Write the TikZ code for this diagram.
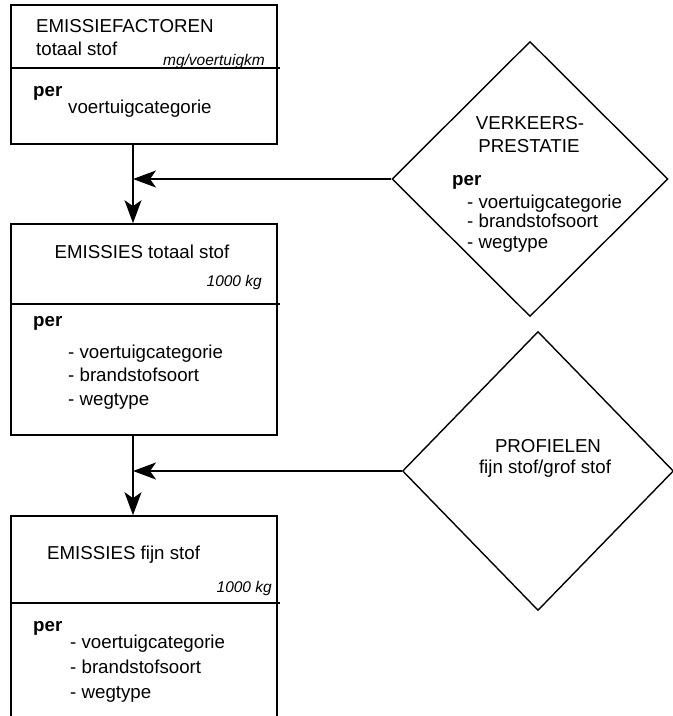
\documentclass[tikz,border=0pt]{standalone}
\usepackage{fontspec}
\setmainfont{Liberation Sans}
\usetikzlibrary{shapes.geometric,arrows.meta,positioning,calc}

\begin{document}
\begin{tikzpicture}[x=1pt,y=-1pt,
    box/.style={draw, line width=1.6pt, inner sep=0pt, minimum width=266pt},
    ruit/.style={draw, diamond, line width=1.4pt, inner sep=0pt},
    txt/.style={anchor=base west, inner sep=0pt, font=\fontsize{18.7}{22}\selectfont},
    mid/.style={txt, anchor=base},
    unit/.style={anchor=base east, inner sep=0pt, font=\fontsize{15.5}{18}\selectfont\itshape},
    flow/.style={line width=1.7pt, -{Stealth[length=23pt,width=17pt,inset=6pt]}}]
    \clip (0,0) rectangle (673,716);

    % Emissiefactoren
    \node [box, minimum height=139pt] (ef) at (144,74.5) {};
    \draw [line width=1.6pt] (11,68) -- (280,68);
    \node [txt] (ef-t1) at (36,32) {EMISSIEFACTOREN};
    \node [txt] (ef-t2) at (36,55) {totaal stof};
    \node [unit] (ef-u) at (265,65) {mg/voertuigkm};
    \node [txt] (ef-per) at (33,96) {\textbf{per}};
    \node [txt] (ef-cat) at (68,113) {voertuigcategorie};

    % Emissies totaal stof
    \node [box, minimum height=211pt] (ets) at (144,329.5) {};
    \draw [line width=1.6pt] (11,304) -- (280,304);
    \node [mid] (ets-t) at (142,258) {EMISSIES totaal stof};
    \node [unit] (ets-u) at (262,286) {1000 kg};
    \node [txt] (ets-per) at (33,326) {\textbf{per}};
    \foreach \y/\item in {358/voertuigcategorie, 381/brandstofsoort, 405/wegtype}
        \node [txt] (ets-\y) at (68,\y) {- \item};

    % Emissies fijn stof
    \node [box, minimum height=214pt] (efs) at (144,623) {};
    \draw [line width=1.6pt] (11,603) -- (280,603);
    \node [txt] (efs-t) at (47,559) {EMISSIES fijn stof};
    \node [unit] (efs-u) at (272,592) {1000 kg};
    \node [txt] (efs-per) at (33,631) {\textbf{per}};
    \foreach \y/\item in {648/voertuigcategorie, 673/brandstofsoort, 698/wegtype}
        \node [txt] (efs-\y) at (70,\y) {- \item};

    % Verkeersprestatie
    \node [ruit, minimum width=276pt, minimum height=275pt] (vp) at (530,179) {};
    \node [mid] (vp-t1) at (530,129) {VERKEERS-};
    \node [mid] (vp-t2) at (529,152) {PRESTATIE};
    \node [txt] (vp-per) at (452,185) {\textbf{per}};
    \foreach \y/\item in {208/voertuigcategorie, 227/brandstofsoort, 248/wegtype}
        \node [txt] (vp-\y) at (467,\y) {- \item};

    % Profielen
    \node [ruit, minimum width=271pt, minimum height=279pt] (pr) at (538,471) {};
    \node [mid] (pr-t1) at (548,452) {PROFIELEN};
    \node [mid] (pr-t2) at (545,473) {fijn stof/grof stof};

    % connectors
    \coordinate (j1) at (133,179);
    \coordinate (j2) at (133,471);
    \draw [flow] (j1 |- ef.south) -- (j1 |- ets.north);
    \draw [flow] (vp.west) -- (vp.west -| j1);
    \draw [flow] (j2 |- ets.south) -- (j2 |- efs.north);
    \draw [flow] (pr.west) -- (pr.west -| j2);
\end{tikzpicture}
\end{document}
